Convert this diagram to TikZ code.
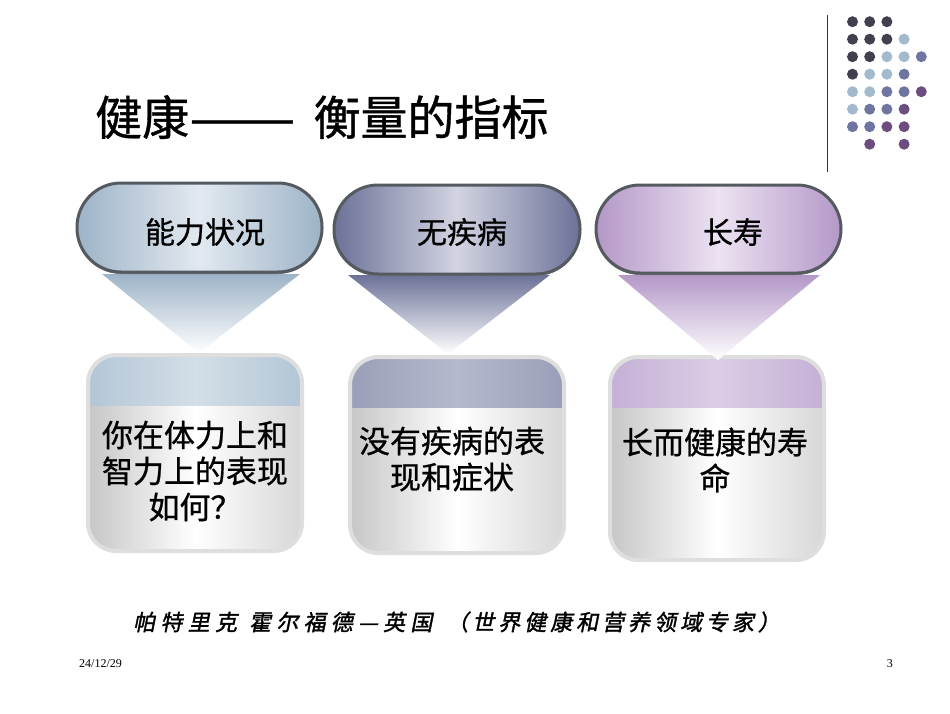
\documentclass[tikz,border=0pt]{standalone}
\usepackage{fontspec}
\setmainfont{Liberation Serif}
\newfontfamily\cjk{Noto Sans CJK SC}
\newfontfamily\cjkb[FakeBold=0.8]{Noto Sans CJK SC}
\newfontfamily\cjkslant[FakeSlant=0.2,FakeBold=1.5,LetterSpace=24]{Noto Sans CJK SC}
\definecolor{dkdot}{HTML}{40404F}
\definecolor{ltdot}{HTML}{A3B9CD}
\definecolor{mddot}{HTML}{6F75A1}
\definecolor{ppdot}{HTML}{6B4D7F}
\definecolor{pillA}{HTML}{9DB3C7}
\definecolor{pillAc}{HTML}{E2E9F0}
\definecolor{pillB}{HTML}{6C7298}
\definecolor{pillBc}{HTML}{D2D4E2}
\definecolor{pillC}{HTML}{B498C8}
\definecolor{pillCc}{HTML}{ECE2F2}
\definecolor{pillrim}{HTML}{555A60}
\definecolor{boxrim}{HTML}{DEDEDE}
\definecolor{bandA}{HTML}{B3C6D6}
\definecolor{bandAc}{HTML}{D3DEE7}
\definecolor{bandB}{HTML}{9A9FB9}
\definecolor{bandBc}{HTML}{B5B9CD}
\definecolor{bandC}{HTML}{C4B0D6}
\definecolor{bandCc}{HTML}{DCCDE6}
\definecolor{bodygray}{HTML}{C6C6C6}
\begin{document}
\begin{tikzpicture}[x=1pt,y=-1pt,
  dot/.style={circle,inner sep=0pt,minimum size=11pt},
  pilltext/.style={font=\cjkb\fontsize{30}{32}\selectfont,inner sep=0pt},
  boxtext/.style={font=\cjkb\fontsize{31}{36}\selectfont,align=center,inner sep=0pt},
  pillrimstyle/.style={draw=pillrim,line width=3pt,rounded corners=44pt},
  boxrimstyle/.style={draw=boxrim,line width=4pt,rounded corners=28pt}]
\fill[white] (0,0) rectangle (950,713);
\useasboundingbox (0,0) rectangle (950,713);
% dots
\foreach \r/\cols in {1/{1/dkdot,2/dkdot,3/dkdot},
  2/{1/dkdot,2/dkdot,3/dkdot,4/ltdot},
  3/{1/dkdot,2/dkdot,3/ltdot,4/ltdot,5/mddot},
  4/{1/dkdot,2/ltdot,3/ltdot,4/mddot},
  5/{1/ltdot,2/ltdot,3/mddot,4/mddot,5/ppdot},
  6/{1/ltdot,2/mddot,3/mddot,4/ppdot},
  7/{1/mddot,2/mddot,3/ppdot,4/ppdot},
  8/{2/ppdot,4/ppdot}}{
  \foreach \c/\col in \cols {
    \node[dot,fill=\col] (d\r\c) at ({852.5+17.2*(\c-1)},{21.7+17.5*(\r-1)}) {};
  }
}
\draw[line width=1pt,draw=black!80] (827,15) coordinate (vt) -- (827,172) coordinate (vb);
% title
\node[anchor=west,font=\cjkb\fontsize{47}{49}\selectfont,inner sep=0pt] (title) at (95,117) {健康\scalebox{1.35}[1]{——}\hspace{18pt}衡量的指标};
% boxes
\foreach \n/\xa/\ya/\xb/\yb/\yband/\bc/\bcc in {1/88/355/302/551/405/bandA/bandAc,2/350/357/564/553/407/bandB/bandBc,3/610/357/824/560/407/bandC/bandCc}{
  \begin{scope}
    \clip[rounded corners=28pt] (\xa,\ya) rectangle (\xb,\yb);
    \shade[left color=bodygray,right color=bodygray!70,middle color=white] (\xa,\ya) rectangle (\xb,\yb);
    \shade[left color=\bc,right color=\bc,middle color=\bcc] (\xa,\ya) rectangle (\xb,\yband);
  \end{scope}
  \draw[boxrimstyle] (\xa,\ya) rectangle (\xb,\yb);
}
% triangles
\shade[top color=pillA,bottom color=white] (102,274) -- (300,274) -- (199,353) -- cycle;
\shade[top color=pillB,bottom color=white] (348,275) -- (550,275) -- (448,354) -- cycle;
\shade[top color=pillC,bottom color=white] (618,275) -- (820,275) -- (718,360) -- cycle;
% pills
\foreach \xa/\ya/\xb/\yb/\pc/\pcc in {77/183/322/272/pillA/pillAc,334/185/580/274/pillB/pillBc,596/185/841/273/pillC/pillCc}{
  \fill[pillrim!80,rounded corners=44pt] (\xa,\ya+2) rectangle (\xb,\yb+2);
  \shade[pillrimstyle,left color=\pc,right color=\pc,middle color=\pcc] (\xa,\ya) rectangle (\xb,\yb);
}
\node[pilltext] (p1) at (205,232) {能力状况};
\node[pilltext] (p2) at (462,232) {无疾病};
\node[pilltext] (p3) at (733,232) {长寿};
% box texts
\node[boxtext] (b1) at (195,471) {你在体力上和\\智力上的表现\\如何？};
\node[boxtext] (b2) at (452,459) {没有疾病的表\\现和症状};
\node[boxtext] (b3) at (715,460) {长而健康的寿\\命};
% footer
\node[anchor=west,font=\cjkslant\fontsize{22}{24}\selectfont,inner sep=0pt] (foot) at (133,622) {帕特里克\hspace{12pt}霍尔福德—英国\hspace{14pt}\addfontfeature{LetterSpace=18}（世界健康和营养领域专家）};
\node[anchor=west,font=\fontsize{12}{14}\selectfont,inner sep=0pt] (date) at (79,664) {24/12/29};
\node[anchor=east,font=\fontsize{12}{14}\selectfont,inner sep=0pt] (page) at (893,664) {3};
\end{tikzpicture}
\end{document}
